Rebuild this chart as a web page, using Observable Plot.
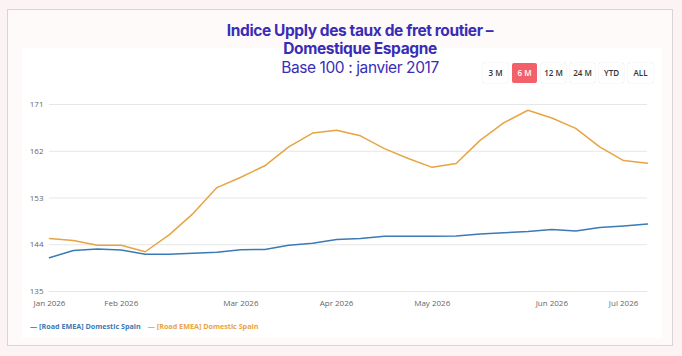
<!DOCTYPE html>
<html>
<head>
<meta charset="utf-8">
<script src="https://cdn.jsdelivr.net/npm/d3@7"></script>
<script src="https://cdn.jsdelivr.net/npm/@observablehq/plot@0.6"></script>
<style>
  html, body { margin: 0; padding: 0; }
  body { width: 682px; height: 356px; background: #fcf4f4; position: relative; overflow: hidden; font-family: "Open Sans", sans-serif; }
  #card { position: absolute; left: 7px; top: 9px; width: 664px; height: 335px; border: 1px solid #d9d5d7; background: #fefafa; }
  #panel { position: absolute; left: 22px; top: 48px; width: 640px; height: 290px; background: #ffffff; }
  #title { position: absolute; left: 160px; width: 400px; top: 22px; text-align: center; color: #3a2db5; font-family: Inter, sans-serif; font-size: 15.5px; line-height: 18px; letter-spacing: -0.4px; }
  #title .t { font-weight: 700; }
  #title .s { font-weight: 400; font-size: 15.5px; margin-top: 1px; }
  #buttons { position: absolute; left: 483px; top: 63px; display: flex; gap: 4px; }
  #buttons div { width: 25px; height: 20px; line-height: 20px; text-align: center; font-size: 8px; font-weight: 600; color: #333; background: #fff; border-radius: 2px; box-shadow: 0 0 1px rgba(0,0,0,0.25); font-family: "Open Sans", sans-serif; }
  #buttons div.active { background: #f2606a; color: #fff; box-shadow: none; }
  #chart { position: absolute; left: 0; top: 90px; }
  #legend { position: absolute; left: 30px; top: 321px; display: flex; gap: 7px; font-size: 7.2px; font-weight: 700; font-family: "Open Sans", sans-serif; }
</style>
</head>
<body>
<div id="card"></div>
<div id="panel"></div>
<div id="title">
  <div class="t">Indice Upply des taux de fret routier –</div>
  <div class="t">Domestique Espagne</div>
  <div class="s">Base 100 : janvier 2017</div>
</div>
<div id="buttons"></div>
<div id="chart"></div>
<div id="legend"></div>
<script>
const seriesNames = ["[Road EMEA] Domestic Spain", "[Road EMEA] Domestic Spain"];
const seriesColors = ["#3b7ab6", "#e7a443"];
const blueValues = [141.5, 142.9, 143.2, 143.0, 142.15, 142.15, 142.35, 142.55, 143.05, 143.1, 143.9, 144.3, 145.0, 145.2, 145.65, 145.65, 145.65, 145.7, 146.05, 146.3, 146.55, 146.95, 146.65, 147.3, 147.6, 148.0];
const orangeValues = [145.2, 144.8, 143.9, 143.9, 142.65, 145.9, 150.0, 155.0, 157.0, 159.2, 162.85, 165.5, 166.05, 164.97, 162.5, 160.6, 158.9, 159.65, 164.1, 167.5, 169.9, 168.4, 166.4, 162.85, 160.2, 159.7];
const xTickPositions = [0, 3, 8, 12, 16, 21, 24];
const xTickLabels = ["Jan 2026", "Feb 2026", "Mar 2026", "Apr 2026", "May 2026", "Jun 2026", "Jul 2026"];
const yTicks = [135, 144, 153, 162, 171];
const buttonLabels = ["3 M", "6 M", "12 M", "24 M", "YTD", "ALL"];
const activeButton = "6 M";

const rows = [];
blueValues.forEach((v, i) => rows.push({i, v, s: 0}));
orangeValues.forEach((v, i) => rows.push({i, v, s: 1}));

const chart = Plot.plot({
  width: 682,
  height: 222,
  marginLeft: 49,
  marginRight: 35,
  marginTop: 14,
  marginBottom: 21,
  style: {fontFamily: "'Open Sans', sans-serif", fontSize: "8px", color: "#666", background: "transparent"},
  x: {type: "linear", domain: [0, blueValues.length - 1], ticks: xTickPositions, tickFormat: (d) => xTickLabels[xTickPositions.indexOf(d)], tickSize: 0, tickPadding: 9, label: null},
  y: {domain: [135, 171], ticks: yTicks, tickSize: 0, tickPadding: 6, label: null},
  marks: [
    Plot.gridY(yTicks, {stroke: "#e6e6e6", strokeOpacity: 1, strokeWidth: 1}),
    Plot.lineY(rows, {x: "i", y: "v", z: "s", stroke: (d) => seriesColors[d.s], strokeWidth: 1.5}),
  ]
});
document.getElementById("chart").appendChild(chart);

const btns = document.getElementById("buttons");
buttonLabels.forEach(b => {
  const d = document.createElement("div");
  d.textContent = b;
  if (b === activeButton) d.className = "active";
  btns.appendChild(d);
});
const leg = document.getElementById("legend");
seriesNames.forEach((n, k) => {
  const d = document.createElement("div");
  d.style.color = seriesColors[k];
  d.textContent = "— " + n;
  leg.appendChild(d);
});
</script>
</body>
</html>
